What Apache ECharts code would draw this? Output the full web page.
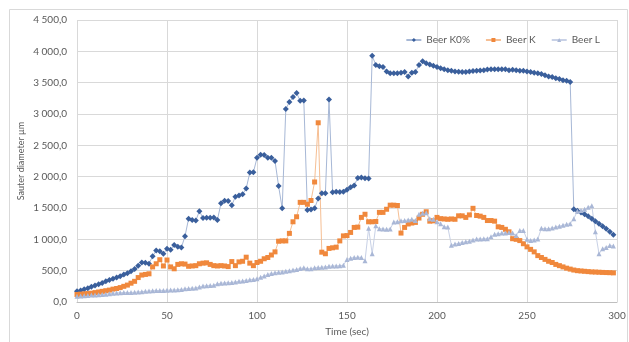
<!DOCTYPE html>
<html>
<head>
<meta charset="utf-8">
<script src="https://cdn.jsdelivr.net/npm/echarts@6/dist/echarts.min.js"></script>
<style>
  html, body { margin: 0; padding: 0; background: #ffffff; }
  #chart { width: 629px; height: 342px; }
</style>
</head>
<body>
<div id="chart"></div>
<script>
// Sampling times (sec)
const times = [
  0, 2, 4, 6, 8, 10, 12, 14, 16, 18, 20, 22, 24, 26, 28, 30, 32, 34, 36, 38,
  40, 42, 44, 46, 48, 50, 52, 54, 56, 58, 60, 62, 64, 66, 68, 70, 72, 74, 76, 78,
  80, 82, 84, 86, 88, 90, 92, 94, 96, 98, 100, 102, 104, 106, 108, 110, 112, 114, 116, 118,
  120, 122, 124, 126, 128, 130, 132, 134, 136, 138, 140, 142, 144, 146, 148, 150, 152, 154, 156, 158,
  160, 162, 164, 166, 168, 170, 172, 174, 176, 178, 180, 182, 184, 186, 188, 190, 192, 194, 196, 198,
  200, 202, 204, 206, 208, 210, 212, 214, 216, 218, 220, 222, 224, 226, 228, 230, 232, 234, 236, 238,
  240, 242, 244, 246, 248, 250, 252, 254, 256, 258, 260, 262, 264, 266, 268, 270, 272, 274, 276, 278,
  280, 282, 284, 286, 288, 290, 292, 294, 296, 298
];

// Sauter diameter (µm) per beer
const beerK0 = [
  170, 185, 205, 220, 245, 265, 285, 305, 330, 350, 370, 390, 410, 440, 460, 490, 525, 580, 630, 625,
  610, 730, 820, 810, 770, 850, 835, 910, 880, 870, 1050, 1330, 1310, 1300, 1450, 1340, 1345, 1345, 1350, 1310,
  1575, 1615, 1610, 1545, 1680, 1700, 1720, 1810, 2065, 2070, 2300, 2350, 2345, 2300, 2300, 2250, 1850, 1495, 3080, 3190,
  3270, 3335, 3210, 3215, 1470, 1475, 1495, 1650, 1735, 1735, 3230, 1750, 1760, 1755, 1760, 1790, 1830, 1860, 1980, 1985,
  1975, 1970, 3930, 3780, 3760, 3750, 3680, 3650, 3650, 3650, 3660, 3670, 3600, 3660, 3670, 3780, 3840, 3810, 3790, 3770,
  3750, 3730, 3715, 3700, 3690, 3680, 3675, 3670, 3670, 3680, 3685, 3690, 3695, 3700, 3710, 3715, 3715, 3715, 3715, 3715,
  3700, 3705, 3700, 3690, 3690, 3680, 3670, 3660, 3650, 3640, 3620, 3600, 3590, 3570, 3560, 3540, 3530, 3510, 1480, 1455,
  1430, 1400, 1370, 1330, 1290, 1250, 1210, 1170, 1120, 1075
];

const beerK = [
  120, 125, 130, 135, 140, 150, 160, 170, 180, 190, 205, 215, 230, 250, 270, 300, 330, 390, 430, 440,
  450, 560, 610, 675, 575, 670, 560, 530, 600, 610, 605, 570, 575, 580, 610, 620, 625, 600, 580, 575,
  580, 575, 565, 645, 580, 640, 650, 715, 620, 580, 630, 650, 690, 710, 750, 800, 970, 975, 975, 1095,
  1280, 1360, 1590, 1590, 1560, 1620, 1915, 2860, 795, 770, 855, 865, 875, 975, 1055, 1060, 1110, 1190, 1195, 1350,
  1400, 1280, 1280, 1285, 1430, 1430, 1480, 1545, 1545, 1540, 1100, 1190, 1245, 1260, 1270, 1340, 1400, 1440, 1290, 1295,
  1350, 1330, 1325, 1320, 1325, 1320, 1375, 1375, 1350, 1390, 1495, 1380, 1370, 1350, 1300, 1300, 1290, 1200, 1190, 1160,
  1120, 1010, 1000, 980, 930, 880, 840, 800, 740, 710, 680, 650, 630, 600, 580, 560, 540, 525, 510, 500,
  495, 490, 485, 480, 478, 475, 472, 470, 468, 465
];

const beerL = [
  90, 95, 100, 105, 110, 112, 115, 120, 125, 130, 140, 145, 148, 150, 150, 152, 155, 160, 165, 170,
  175, 180, 182, 185, 185, 188, 190, 192, 195, 200, 210, 215, 220, 225, 240, 255, 260, 262, 268, 290,
  300, 305, 308, 310, 320, 330, 335, 345, 355, 360, 370, 395, 415, 440, 455, 465, 475, 480, 490, 500,
  510, 520, 535, 545, 530, 530, 545, 550, 555, 560, 570, 575, 575, 580, 585, 680, 700, 710, 715, 710,
  660, 1175, 770, 1215, 1170, 1165, 1160, 1165, 1275, 1280, 1295, 1300, 1310, 1320, 1300, 1400, 1415, 1425, 1330, 1320,
  1280, 1250, 1200, 1195, 905, 925, 935, 950, 960, 970, 990, 1005, 1005, 1010, 1010, 1040, 1080, 1090, 1100, 1100,
  1110, 1100, 1060, 1140, 1140, 1000, 980, 990, 1005, 1175, 1170, 1170, 1180, 1195, 1210, 1225, 1240, 1250, 1330, 1450,
  1460, 1480, 1510, 1535, 1120, 770, 850, 870, 900, 895
];

const seriesNames = ['Beer K0%', 'Beer K', 'Beer L'];
const xTicks = { min: 0, max: 300, step: 50 };
const yTicks = { min: 0, max: 4500, step: 500 };

const pair = (vals) => vals.map((v, i) => [times[i], v]);

// "4 500,0" style number labels
function fmt(v) {
  const s = Math.round(v).toString().replace(/\B(?=(\d{3})+(?!\d))/g, ' ');
  return s + ',0';
}

const FONT = 'Lato, "Open Sans", sans-serif';
const TXT = '#595959';
const GRID = '#d9d9d9';

const chart = echarts.init(document.getElementById('chart'), null, { renderer: 'canvas' });

chart.setOption({
  animation: false,
  backgroundColor: '#ffffff',
  graphic: [{
    type: 'rect',
    silent: true,
    shape: { x: 9.5, y: 9.5, width: 618, height: 345 },
    style: { fill: 'none', stroke: '#d9d9d9', lineWidth: 1 }
  }],
  grid: { left: 77, right: 12, top: 20, bottom: 38.7, containLabel: false },
  legend: {
    top: 30,
    right: 24,
    itemWidth: 15,
    itemHeight: 5,
    itemGap: 15,
    textStyle: { color: TXT, fontFamily: FONT, fontSize: 10 },
    data: seriesNames
  },
  xAxis: {
    type: 'value',
    min: xTicks.min,
    max: xTicks.max,
    interval: xTicks.step,
    name: 'Time (sec)',
    nameLocation: 'middle',
    nameGap: 25,
    nameTextStyle: { color: TXT, fontFamily: FONT, fontSize: 10 },
    axisLine: { show: true, lineStyle: { color: '#bfbfbf', width: 1 } },
    axisTick: { show: false },
    axisLabel: { color: TXT, fontFamily: FONT, fontSize: 10, margin: 9 },
    splitLine: { show: true, lineStyle: { color: GRID, width: 1 } }
  },
  yAxis: {
    type: 'value',
    min: yTicks.min,
    max: yTicks.max,
    interval: yTicks.step,
    name: 'Sauter diameter µm',
    nameLocation: 'middle',
    nameGap: 51,
    nameMoveOverlap: false,
    nameRotate: 90,
    nameTextStyle: { color: TXT, fontFamily: FONT, fontSize: 9 },
    axisLine: { show: false },
    axisTick: { show: false },
    axisLabel: { color: TXT, fontFamily: FONT, fontSize: 10, margin: 10, formatter: fmt },
    splitLine: { show: true, lineStyle: { color: GRID, width: 1 } }
  },
  series: [
    {
      name: seriesNames[0],
      type: 'line',
      data: pair(beerK0),
      symbol: 'diamond',
      symbolSize: 6,
      itemStyle: { color: '#3a5f9c' },
      lineStyle: { color: '#a7b8d6', width: 1 }
    },
    {
      name: seriesNames[1],
      type: 'line',
      data: pair(beerK),
      symbol: 'rect',
      symbolSize: 5,
      itemStyle: { color: '#f0883c' },
      lineStyle: { color: '#f6bf94', width: 1 }
    },
    {
      name: seriesNames[2],
      type: 'line',
      data: pair(beerL),
      symbol: 'triangle',
      symbolSize: 5,
      itemStyle: { color: '#a9b7d6' },
      lineStyle: { color: '#c8d1e6', width: 1 }
    }
  ]
});
</script>
</body>
</html>
